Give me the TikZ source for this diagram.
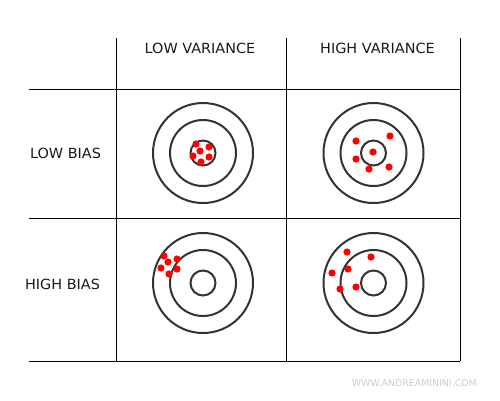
\documentclass[tikz,border=0pt]{standalone}
\usepackage{fontspec}
\setmainfont{DejaVu Sans}
\newfontfamily\widefont[FakeStretch=1.03]{DejaVu Sans}
\definecolor{ring}{HTML}{333333}
\definecolor{wm}{HTML}{CCCCCC}
\begin{document}
\begin{tikzpicture}[x=1pt,y=-1pt,
  grid/.style={line width=1pt,black},
  ringline/.style={line width=2pt,ring},
  shot/.style={fill=red,draw=none},
  lbl/.style={anchor=base,inner sep=0pt,font=\widefont\fontsize{14}{16}\selectfont,text=black!90},
  wmark/.style={anchor=base east,inner sep=0pt,font=\fontsize{9.4}{11}\selectfont,text=wm}]
\useasboundingbox (0,0) rectangle (500,400);
% grid
\draw[grid] (116,38) -- (116,361);
\draw[grid] (286,38) -- (286,361);
\draw[grid] (460,38) -- (460,361);
\draw[grid] (29,89) -- (460,89);
\draw[grid] (29,218) -- (460,218);
\draw[grid] (29,361) -- (460,361);
% labels
\node[lbl] (lv) at (200,53.7) {LOW VARIANCE};
\node[lbl] (hv) at (377.5,53.7) {HIGH VARIANCE};
\node[lbl] (lb) at (65.5,158.3) {LOW BIAS};
\node[lbl] (hb) at (62.5,289) {HIGH BIAS};
% targets
\foreach \cx/\cy/\n in {203/153/a,373.5/153/b,203/283/c,373.5/283/d}{
  \draw[ringline] (\cx,\cy) circle (50);
  \draw[ringline] (\cx,\cy) circle (33);
  \draw[ringline] (\cx,\cy) circle (12.5);
}
% shots
\foreach \x/\y in {196/144,209/147,200/151,193/156,209/157,201/162,
                   356/141,390/136,373/152,356/159,369/169,389/167,
                   164/256,177/259,168/262,161/268,177/269,169/274,
                   347/252,371/257,348/269,332/273,340/289,356/287}{
  \fill[shot] (\x,\y) circle (3.6);
}
\node[wmark] (wmk) at (477,386) {WWW.ANDREAMININI.COM};
\end{tikzpicture}
\end{document}
